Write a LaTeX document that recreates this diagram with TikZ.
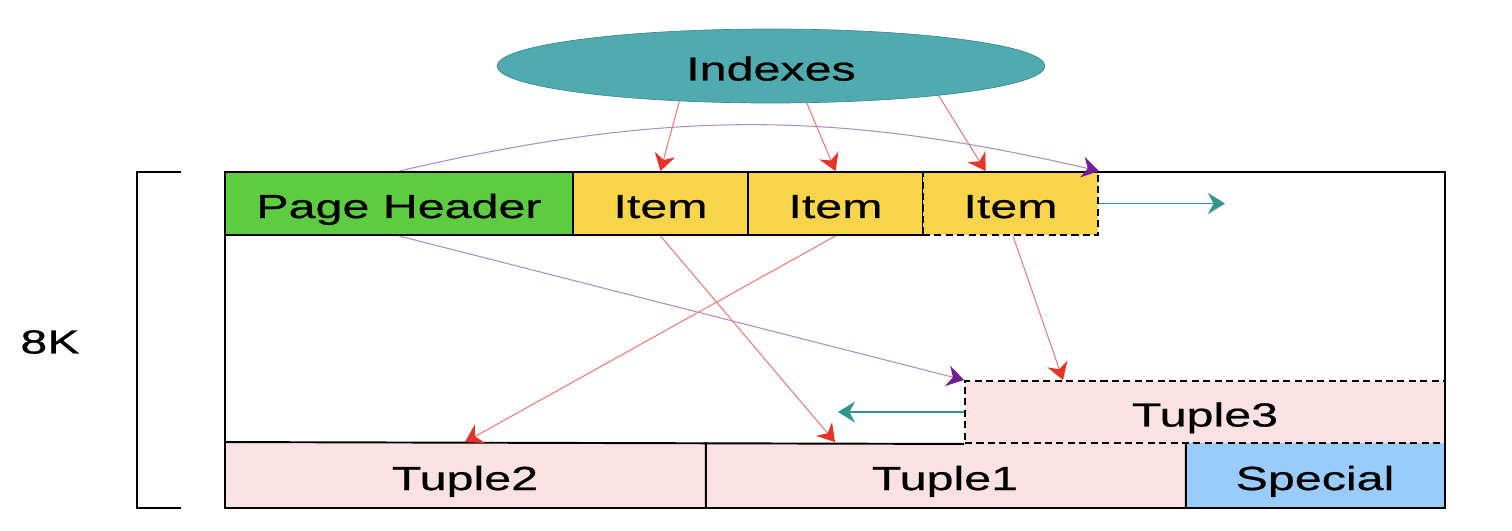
\documentclass[tikz,border=0pt]{standalone}
\usepackage{fontspec}
\setmainfont[FakeStretch=1.45,FakeBold=0.6]{Liberation Sans}
\usetikzlibrary{arrows.meta}
\usetikzlibrary{shapes}

\definecolor{hdrgreen}{RGB}{94,204,64}
\definecolor{itemyellow}{RGB}{247,212,74}
\definecolor{tuplepink}{RGB}{250,226,226}
\definecolor{specblue}{RGB}{153,204,250}
\definecolor{idxteal}{RGB}{79,171,176}
\definecolor{idxedge}{RGB}{60,140,145}
\definecolor{redline}{RGB}{242,120,115}
\definecolor{redtip}{RGB}{232,52,40}
\definecolor{purpleline}{RGB}{175,140,195}
\definecolor{purpletip}{RGB}{115,30,150}
\definecolor{tealline}{RGB}{50,150,140}

\begin{document}
\begin{tikzpicture}[x=0.02cm,y=-0.02cm,font=\fontsize{19}{21}\selectfont]
	\def \itemrow{203.5}
	\def \tuplethreerow{412}
	\def \tuplerow{475.5}
	\tikzstyle{cell}=[rectangle,draw=black,line width=1.1pt,inner sep=0pt,minimum height=1.26cm,text height=16.5pt,text depth=0pt]
	\tikzstyle{dash-cell}=[cell,dash pattern=on 4pt off 2.5pt]
	\tikzstyle{red-arrow}=[-{Stealth[length=3.4mm,width=4.2mm,color=redtip]},draw=redline,line width=0.6pt]
	\tikzstyle{purple-arrow}=[-{Stealth[length=3.4mm,width=4.2mm,color=purpletip]},draw=purpleline,line width=0.6pt]
	\tikzstyle{teal-arrow}=[-{Stealth[length=3.4mm,width=4.2mm]},draw=tealline,line width=0.8pt]
	\useasboundingbox (0,0) rectangle (1512,531);

	% indexes
	\node[ellipse,fill=idxteal,draw=idxedge,thin,minimum width=10.96cm,minimum height=1.48cm,text height=16.5pt,text depth=0pt] (idx) at (771,66) {Indexes};

	% size label
	\node (size) at (50,342) {8K};
	\draw[line width=1.1pt] (181,172) -| (137,508) -- (181,508);

	% header and items
	\node[cell,fill=hdrgreen,minimum width=6.96cm] (hdr) at (399,\itemrow) {Page Header};
	\node[cell,fill=itemyellow,minimum width=3.5cm] (i1) at (660.5,\itemrow) {Item};
	\node[cell,fill=itemyellow,minimum width=3.5cm] (i2) at (835.5,\itemrow) {Item};
	\node[dash-cell,fill=itemyellow,minimum width=3.5cm] (i3) at (1010.5,\itemrow) {Item};
	\coordinate (grow) at (1225,\itemrow);

	% tuples
	\node[cell,draw=none,fill=tuplepink,minimum width=9.6cm,minimum height=1.3cm] (t2) at (465,\tuplerow) {Tuple2};
	\node[cell,draw=none,fill=tuplepink,minimum width=9.6cm,minimum height=1.3cm] (t1) at (945,\tuplerow) {Tuple1};
	\node[cell,draw=none,fill=specblue,minimum width=5.2cm,minimum height=1.3cm] (spec) at (1315,\tuplerow) {Special};
	\node[dash-cell,fill=tuplepink,minimum width=9.6cm,minimum height=1.24cm] (t3) at (1205,\tuplethreerow) {Tuple3};
	\coordinate (shrink) at (838,\tuplethreerow);
	\draw[line width=1.1pt] (t2.north west) -- (t3.south west)
		(t2.north east) -- (t2.south east)
		(t1.north east) -- (t1.south east);

	% page frame
	\node[rectangle,draw=black,line width=1.1pt,inner sep=0pt,minimum width=24.4cm,minimum height=6.72cm] (page) at (835,340) {};

	\path (idx.201)	edge[red-arrow]	(i1.north)
		(idx.314)	edge[red-arrow]	(i2.north)
		(idx.350)	edge[red-arrow]	([xshift=-0.5cm]i3.north)
		(i1.south)	edge[red-arrow]	([xshift=-2.2cm]t1.north)
		(i2.south)	edge[red-arrow]	(t2.north)
		([xshift=0.05cm]i3.south)	edge[red-arrow]	([xshift=-2.84cm]t3.north)
		(hdr.north)	edge[purple-arrow,bend left=13]	(i3.north east)
		(hdr.south)	edge[purple-arrow]	(t3.north west)
		(i3.east)	edge[teal-arrow]	(grow)
		(t3.west)	edge[teal-arrow]	(shrink);

\end{tikzpicture}
\end{document}
